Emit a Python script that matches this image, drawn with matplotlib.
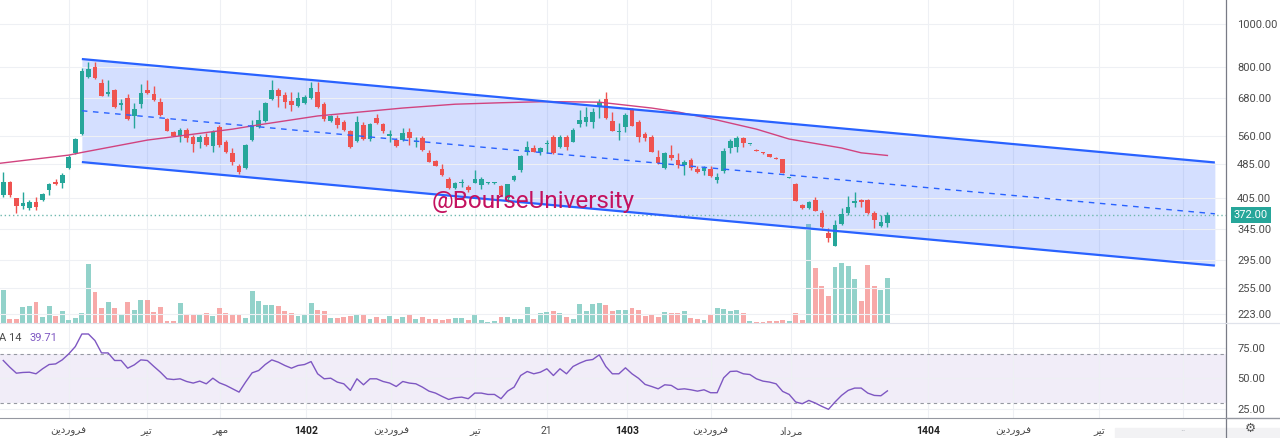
import matplotlib
matplotlib.use('Agg')
import matplotlib.pyplot as plt
from matplotlib.lines import Line2D
from matplotlib.patches import Rectangle
import matplotlib.transforms as mtransforms
import numpy as np

plt.rcParams['font.family'] = ['Roboto', 'DejaVu Sans']

# weekly candles
opens = [412, 442, 405, 390, 385, 398, 402, 423, 442, 438, 474, 512, 566, 761, 799, 736, 695, 710, 657, 683,
         621, 660, 710, 696, 669, 610, 571, 561, 577, 558, 542, 558, 532, 587, 543, 512, 478, 474, 548, 587,
         606, 678, 710, 692, 671, 655, 663, 680, 702, 660, 606, 615, 603, 574, 545, 593, 551, 614, 596, 560,
         548, 548, 571, 542, 555, 513, 492, 472, 447, 427, 438, 430, 439, 434, 438, 438, 432, 405, 446, 469,
         516, 527, 514, 537, 558, 530, 558, 543, 595, 603, 601, 651, 678, 605, 572, 587, 640, 601, 565, 556,
         503, 474, 507, 494, 482, 494, 472, 467, 471, 446, 467, 525, 528, 553, 536, 521, 514, 509, 500, 496,
         451, 436, 392, 385, 402, 375, 338, 317, 354, 375, 396, 402, 402, 375, 351, 356]
highs = [465, 443, 406, 419, 402, 409, 417, 439, 448, 462, 507, 554, 795, 820, 823, 752, 748, 714, 678, 695,
         663, 732, 748, 726, 681, 614, 574, 583, 584, 563, 563, 569, 577, 593, 548, 525, 483, 537, 608, 640,
         667, 748, 717, 704, 704, 704, 692, 742, 742, 667, 624, 624, 608, 577, 622, 603, 600, 626, 599, 577,
         554, 584, 584, 558, 560, 521, 494, 483, 453, 441, 447, 434, 469, 453, 440, 440, 434, 437, 457, 507,
         545, 534, 530, 548, 563, 563, 563, 584, 640, 651, 646, 678, 704, 633, 598, 630, 646, 608, 572, 563,
         521, 515, 534, 512, 494, 499, 479, 478, 478, 461, 525, 550, 560, 558, 537, 522, 515, 510, 501, 497,
         452, 439, 394, 400, 407, 382, 347, 362, 385, 410, 419, 403, 404, 380, 372, 378]
lows = [407, 408, 376, 384, 382, 382, 400, 412, 434, 428, 472, 510, 563, 757, 752, 689, 690, 646, 640, 608,
        584, 646, 696, 671, 621, 574, 560, 542, 543, 516, 525, 532, 516, 529, 513, 482, 459, 472, 545, 583,
        602, 675, 651, 646, 637, 651, 660, 678, 647, 605, 602, 583, 574, 527, 543, 548, 546, 596, 568, 543,
        529, 545, 534, 530, 518, 489, 479, 455, 425, 425, 430, 419, 438, 425, 437, 437, 410, 398, 443, 464,
        507, 515, 507, 512, 510, 525, 521, 542, 587, 590, 584, 615, 611, 574, 548, 572, 588, 543, 545, 515,
        484, 472, 494, 474, 457, 469, 461, 457, 453, 438, 461, 512, 516, 528, 535, 518, 511, 502, 496, 462,
        450, 400, 383, 383, 379, 347, 323, 316, 353, 372, 388, 387, 374, 347, 350, 349]
closes = [442, 412, 390, 396, 398, 388, 414, 436, 436, 457, 503, 551, 784, 792, 755, 690, 704, 651, 665, 611,
          643, 698, 698, 675, 624, 575, 561, 577, 555, 536, 556, 534, 571, 534, 514, 489, 465, 534, 593, 608,
          663, 710, 690, 669, 657, 683, 686, 717, 651, 611, 622, 593, 577, 530, 603, 551, 595, 598, 574, 565,
          532, 568, 555, 545, 521, 490, 480, 457, 427, 438, 440, 423, 447, 447, 438, 438, 412, 436, 455, 505,
          529, 516, 525, 541, 512, 558, 530, 577, 608, 617, 633, 669, 614, 575, 575, 624, 591, 558, 553, 516,
          486, 512, 500, 482, 488, 474, 465, 474, 455, 453, 518, 545, 553, 539, 536, 518, 512, 503, 496, 463,
          451, 400, 385, 397, 380, 349, 330, 353, 373, 388, 400, 398, 375, 362, 359, 372]
volumes = [8.4, 0.9, 1.0, 3.9, 4.2, 5.2, 1.6, 4.3, 1.8, 2.9, 0.8, 1.2, 2.6, 14.8, 7.8, 3.8, 5.2, 3.8, 2.2, 5.2,
           3.2, 5.8, 5.8, 2.8, 4.0, 0.6, 0.4, 4.9, 2.2, 2.0, 2.0, 2.4, 1.8, 3.7, 2.4, 2.2, 2.2, 1.2, 7.9, 5.4,
           4.6, 4.6, 4.2, 3.0, 2.6, 1.8, 2.2, 5.1, 3.2, 3.0, 1.2, 1.2, 1.4, 1.7, 2.2, 2.0, 1.1, 1.5, 0.9, 1.8,
           0.9, 1.5, 2.2, 0.9, 1.5, 1.1, 1.1, 0.8, 0.9, 1.2, 1.3, 0.8, 1.9, 0.7, 0.2, 0.4, 1.4, 1.4, 1.0, 1.0,
           3.9, 1.0, 2.4, 2.8, 2.9, 2.4, 1.5, 0.9, 4.8, 3.1, 4.8, 5.1, 4.5, 3.1, 3.2, 3.2, 3.8, 3.2, 1.8, 2.0,
           1.4, 2.8, 2.4, 2.4, 3.1, 1.3, 0.9, 0.8, 2.0, 3.8, 3.5, 3.0, 3.2, 2.6, 0.6, 0.3, 0.3, 0.6, 0.5, 0.8,
           0.5, 2.4, 0.8, 24.9, 13.7, 9.2, 6.8, 14.1, 15.1, 14.2, 11.1, 5.5, 14.5, 9.2, 8.2, 11.2]
rsi = [64.6, 59.1, 54.2, 54.8, 55.0, 53.7, 57.8, 61.3, 61.8, 65.1, 70.0, 76.0, 86.3, 86.3, 80.9, 70.8, 70.8, 64.6,
       64.6, 58.3, 61.0, 65.1, 64.6, 59.7, 55.0, 49.6, 49.0, 49.6, 47.4, 46.1, 47.7, 45.5, 50.1, 46.3, 44.2, 41.4,
       38.7, 46.9, 54.5, 56.4, 61.3, 65.1, 63.2, 60.5, 58.3, 60.5, 61.3, 63.7, 53.7, 49.6, 50.1, 46.9, 45.5, 40.1,
       49.6, 44.7, 49.6, 49.6, 47.4, 46.1, 43.3, 47.4, 46.1, 45.5, 42.8, 39.5, 37.9, 35.2, 32.7, 34.1, 34.6, 33.3,
       37.9, 37.9, 36.8, 36.8, 33.3, 39.5, 42.8, 52.3, 55.6, 53.7, 55.0, 57.8, 52.3, 57.8, 53.7, 59.7, 62.4, 64.6,
       65.4, 69.2, 59.7, 53.7, 53.7, 58.6, 53.7, 50.0, 45.0, 43.3, 41.4, 44.7, 44.2, 40.9, 41.4, 40.6, 39.5, 40.6,
       38.2, 38.2, 50.4, 55.6, 55.9, 53.7, 53.1, 49.6, 47.7, 46.9, 45.5, 39.3, 36.8, 30.6, 29.2, 31.9, 29.7, 27.0,
       24.6, 30.6, 36.0, 40.1, 42.0, 42.0, 37.9, 36.0, 35.7, 39.71]

# moving average, read at a few candles
ma_idx = [-1, 10, 12, 22, 35, 39, 48, 61, 69, 76, 83, 91, 99, 103, 109, 115, 120, 128, 131, 135]
ma_val = [485, 507, 514, 548, 580, 593, 621, 647, 660, 665, 669, 667, 647, 634, 608, 580, 551, 526, 513, 506]

# parallel channel anchors
chan_x = [12, 185]
chan_upper = [834, 488]
chan_mid = [638, 374]
chan_lower = [489, 286]
last_price = 372.0

price_ticks = [1000, 800, 680, 560, 485, 405, 345, 295, 255, 223]
rsi_ticks = [75, 50, 25]
time_pos = [10.0, 21.9, 33.1, 46.2, 59.2, 72.0, 83.0, 95.2, 108.0, 120.3, 141.2, 154.2, 167.3, 180.1]
time_labels = ['فروردین', 'تیر', 'مهر', '1402', 'فروردین', 'تیر', '21', '1403', 'فروردین', 'مرداد',
               '1404', 'فروردین', 'تیر', '··']

# matplotlib does no arabic shaping, so use presentation forms in visual order
shaped = {'فروردین': '\uFEE6\uFBFE\uFEA9\uFEAD\uFEED\uFEAE\uFED3',
          'تیر': '\uFEAE\uFBFF\uFE97',
          'مهر': '\uFEAE\uFEEC\uFEE3',
          'مرداد': '\uFEA9\uFE8D\uFEA9\uFEAE\uFEE3'}

GREEN, RED = '#26a69a', '#ef5350'
GRID = '#eef0f4'
W, H = 1280, 438

idx = np.arange(len(closes))
o, h, l, c = map(np.array, (opens, highs, lows, closes))
up = c >= o
cols = np.where(up, GREEN, RED)

fig = plt.figure(figsize=(W / 100, H / 100), dpi=100)
vax = fig.add_axes([0, 1 - 323 / H, 1226 / W, 323 / H])
ax = fig.add_axes([0, 1 - 323 / H, 1226 / W, 323 / H], sharex=vax)
rax = fig.add_axes([0, 1 - 418 / H, 1226 / W, 95 / H], sharex=vax)
ax.patch.set_visible(False)

# volume underlay
vax.bar(idx, volumes, width=0.75, color=np.where(up, '#92d2ca', '#f7a9a8'), lw=0)
vax.set_ylim(0, 81)
vax.set_yticks([])
vax.tick_params(length=0, labelbottom=False)
vax.grid(True, axis='x', color=GRID, lw=0.8)
vax.set_axisbelow(True)

# price pane
ax.set_yscale('log')
ax.set_xlim(-0.5, 186.7)
ax.set_ylim(212.4, 1132.5)
ax.grid(True, axis='y', color=GRID, lw=0.8, zorder=0)

ax.fill_between(chan_x, chan_lower, chan_upper, color='#2962ff', alpha=0.2, lw=0, zorder=1)
ax.axhline(last_price, color='#6fb8ae', ls=(0, (1, 2)), lw=1, zorder=2)

ax.vlines(idx, l, h, colors=cols, lw=1, zorder=3)
body_lo = np.minimum(o, c)
body_h = np.maximum(np.abs(c - o), c * 0.005)
ax.bar(idx, body_h, bottom=body_lo, width=0.7, color=cols, lw=0, zorder=3.5)

ax.plot(ma_idx, ma_val, color='#d1437f', lw=1.0, zorder=4)
ax.plot(chan_x, chan_upper, color='#2962ff', lw=1.6, zorder=5, solid_capstyle='butt')
ax.plot(chan_x, chan_lower, color='#2962ff', lw=1.6, zorder=5, solid_capstyle='butt')
ax.plot(chan_x, chan_mid, color='#2962ff', lw=1.0, ls=(0, (4, 4)), zorder=5)

ax.yaxis.tick_right()
ax.set_yticks(price_ticks)
ax.set_yticklabels([f'{t:.2f}' for t in price_ticks])
ax.minorticks_off()
ax.tick_params(axis='y', length=0, pad=8, labelsize=8, labelcolor='#4a4a4a')
ax.tick_params(axis='x', length=0, labelbottom=False)
for a in (ax, vax):
    for s in a.spines.values():
        s.set_visible(False)

tr = mtransforms.blended_transform_factory(ax.transAxes, ax.transData)
ax.text(1 + 8 / 1226, last_price, '372.00', transform=tr, ha='left', va='center', fontsize=8,
        color='white', zorder=10, clip_on=False,
        bbox=dict(boxstyle='square,pad=0.3', fc='#26a69a', ec='none'))

fig.text(533 / W, 1 - 202 / H, '@BourseUniversity', ha='center', va='center',
         fontsize=17.5, color='#c4125f', family='Roboto', zorder=20)

# rsi pane
rax.set_ylim(17.5, 95.3)
rax.fill_between([-0.5, 186.7], 30, 70, color='#7e57c2', alpha=0.1, lw=0)
rax.axhline(70, color='#9598a1', lw=0.8, ls=(0, (3, 3)))
rax.axhline(30, color='#9598a1', lw=0.8, ls=(0, (3, 3)))
rax.plot(idx, rsi, color='#7e57c2', lw=1.0)
rax.yaxis.tick_right()
rax.set_yticks(rsi_ticks)
rax.set_yticklabels([f'{t:.2f}' for t in rsi_ticks])
rax.tick_params(axis='y', length=0, pad=8, labelsize=8, labelcolor='#4a4a4a')
rax.grid(True, color=GRID, lw=0.8)
rax.set_xticks(time_pos)
rax.set_xticklabels([shaped.get(t, t) for t in time_labels])
rax.tick_params(axis='x', length=0, pad=6, labelsize=7.5, labelcolor='#4a4a4a')
for t, lab in zip(rax.get_xticklabels(), time_labels):
    if lab.startswith('140'):
        t.set_fontweight('bold')
        t.set_color('#222222')
    if lab == '··':
        t.set_color('#b0b3bb')
for name, s in rax.spines.items():
    s.set_visible(name in ('top', 'bottom'))
rax.spines['top'].set_color('#e0e3eb')
rax.spines['bottom'].set_color('#9598a1')
rax.text(-1 / 1226, 0.84, 'A 14', transform=rax.transAxes, fontsize=8, color='#4a4a4a', va='center')
rax.text(30 / 1226, 0.84, '39.71', transform=rax.transAxes, fontsize=8, color='#7e57c2', va='center')

# pane frame
fig.add_artist(Line2D([1226 / W, 1226 / W], [0, 1], color='#787b86', lw=0.9))
fig.add_artist(Line2D([1226 / W, 1], [1 - 323 / H] * 2, color='#e0e3eb', lw=0.9))
fig.add_artist(Line2D([1226 / W, 1], [1 - 418 / H] * 2, color='#9598a1', lw=1))
fig.add_artist(Rectangle((1115 / W, 0), 165 / W, 10 / H, color='#f2f2f4', zorder=-1))
fig.text(1250 / W, 1 - 428 / H, '⚙', family='DejaVu Sans', fontsize=9, color='#555555',
         ha='center', va='center')

fig.savefig('out.png', dpi=100)
